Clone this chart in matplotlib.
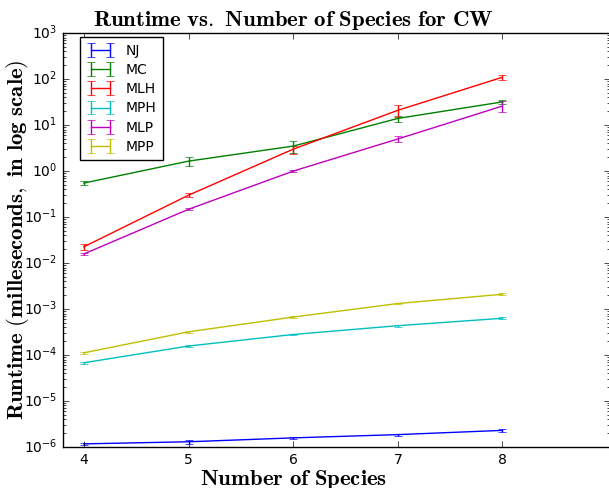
import matplotlib
matplotlib.use("Agg")
import matplotlib.pyplot as plt
import numpy as np

species = [4, 5, 6, 7, 8]

nj = [1.17e-6, 1.3e-6, 1.58e-6, 1.86e-6, 2.3e-6]
nj_err = [0.06e-6, 0.12e-6, 0.09e-6, 0.1e-6, 0.13e-6]

mc = [0.55, 1.65, 3.5, 14.0, 32.0]
mc_err = [0.05, 0.35, 1.0, 2.0, 2.5]

mlh = [0.0226, 0.30, 3.0, 21.0, 110.0]
mlh_err = [0.0035, 0.03, 0.6, 6.0, 15.0]

mph = [6.8e-5, 1.57e-4, 2.8e-4, 4.35e-4, 6.3e-4]
mph_err = [0.3e-5, 0.5e-5, 1e-5, 2e-5, 3e-5]

mlp = [0.0158, 0.148, 1.0, 5.0, 26.0]
mlp_err = [0.001, 0.008, 0.05, 0.8, 7.0]

mpp = [1.12e-4, 3.2e-4, 6.7e-4, 1.32e-3, 2.1e-3]
mpp_err = [0.5e-5, 1.5e-5, 3e-5, 6e-5, 1e-4]

series = [("NJ", nj, nj_err, "b"),
          ("MC", mc, mc_err, "g"),
          ("MLH", mlh, mlh_err, "r"),
          ("MPH", mph, mph_err, "c"),
          ("MLP", mlp, mlp_err, "m"),
          ("MPP", mpp, mpp_err, "y")]

plt.style.use("classic")
fig = plt.figure(figsize=(6.09, 4.88), dpi=100)
fig.patch.set_facecolor("white")
ax = fig.add_axes([0.1034, 0.084, 0.8985, 0.848])

for name, vals, errs, col in series:
    ax.errorbar(species, vals, yerr=errs, color=col, label=name, capsize=3)

ax.set_yscale("log")
ax.set_ylim(1e-6, 1e3)
ax.set_xlim(3.8, 9.03)
ax.set_xticks([4, 5, 6, 7, 8])
ax.tick_params(labelsize=10)

# title and x label sit left of the axes centre in the reference
ax.set_title(r"$\mathbf{Runtime\ vs.\ Number\ of\ Species\ for\ CW}$",
             fontsize=16.4, math_fontfamily="cm", x=0.4214)
ax.set_xlabel(r"$\mathbf{Number\ of\ Species}$", fontsize=16.4,
              math_fontfamily="cm", labelpad=1, x=0.4214)
ax.set_ylabel(r"$\mathbf{Runtime\ (milleseconds,\ in\ log\ scale)}$",
              fontsize=16.4, math_fontfamily="cm")
ax.yaxis.set_label_coords(-0.058, 0.5)

ax.legend(loc="upper left", bbox_to_anchor=(0.032, 0.99), borderaxespad=0,
          fontsize=10, numpoints=2, handlelength=2.0, labelspacing=0.38,
          borderpad=0.45, handletextpad=0.8)

fig.savefig("out.png", dpi=100, facecolor="white")
